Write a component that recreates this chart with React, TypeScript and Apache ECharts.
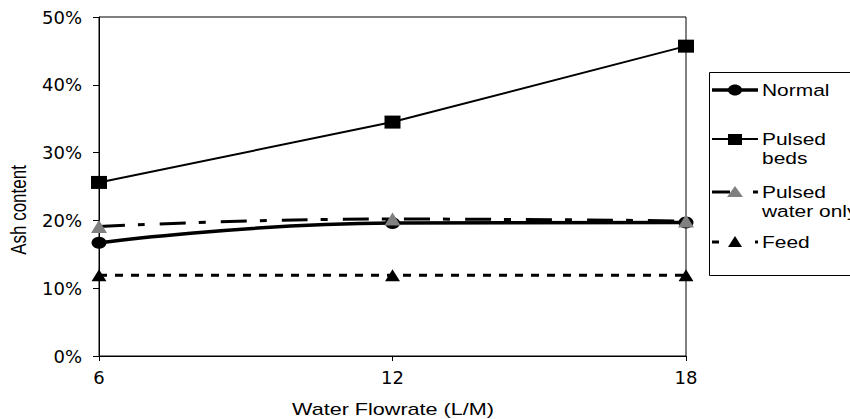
import React, { useEffect, useRef } from "react";
import * as echarts from "echarts";

const flowrates = [6, 12, 18];
const normal = [16.7, 19.6, 19.7];
const pulsedBeds = [25.6, 34.5, 45.7];
const pulsedWaterOnly = [19.1, 20.2, 19.9];
const feed = [11.9, 11.9, 11.9];
const seriesNames = ["Normal", "Pulsed beds", "Pulsed water only", "Feed"];
const xAxisTitle = "Water Flowrate (L/M)";
const yAxisTitle = "Ash content";

const FONT = "'Liberation Sans', Arial, sans-serif";
const WIDE = "'DejaVu Sans', sans-serif";
const STRETCH = 1.27;

function pairs(vals: number[]) {
  return flowrates.map((x, i) => [x, vals[i]]);
}

export default function App() {
  const ref = useRef<HTMLDivElement>(null);
  useEffect(() => {
    if (!ref.current) return;
    const chart = echarts.init(ref.current, undefined, { renderer: "svg" });
    const txt = { fontFamily: FONT, fontSize: 16.5, fill: "#000" };
    const lx0 = 712, lx1 = 758, lc = 735, tx = 762;
    chart.setOption({
      animation: false,
      backgroundColor: "#fff",
      grid: { left: 99, right: 164, top: 17, bottom: 63, show: true, borderColor: "#000", borderWidth: 1 },
      xAxis: {
        type: "value",
        min: 6,
        max: 18,
        interval: 6,
        axisLine: { show: true, lineStyle: { color: "#000", width: 1 } },
        axisTick: { show: true, length: 5, lineStyle: { color: "#000" } },
        axisLabel: { color: "#000", fontFamily: WIDE, fontSize: 18, margin: 12 },
        splitLine: { show: false },
      },
      yAxis: {
        type: "value",
        min: 0,
        max: 50,
        interval: 10,
        axisLine: { show: true, lineStyle: { color: "#000", width: 1 } },
        axisTick: { show: true, length: 6, lineStyle: { color: "#000" } },
        axisLabel: { color: "#000", fontFamily: WIDE, fontSize: 18, margin: 17, formatter: (v: number) => v + "%" },
        splitLine: { show: false },
      },
      series: [
        {
          name: seriesNames[0],
          type: "line",
          data: pairs(normal),
          smooth: 0.5,
          symbol: "circle",
          symbolSize: [15, 12],
          lineStyle: { color: "#000", width: 3.5 },
          itemStyle: { color: "#000" },
          z: 2,
        },
        {
          name: seriesNames[1],
          type: "line",
          data: pairs(pulsedBeds),
          symbol: "rect",
          symbolSize: [16, 13],
          lineStyle: { color: "#000", width: 2 },
          itemStyle: { color: "#000" },
          z: 3,
        },
        {
          name: seriesNames[2],
          type: "line",
          data: pairs(pulsedWaterOnly),
          smooth: 0.5,
          symbol: "triangle",
          symbolSize: [16, 13],
          lineStyle: { color: "#000", width: 3, type: [26, 13, 7, 15] },
          itemStyle: { color: "#808080" },
          z: 4,
        },
        {
          name: seriesNames[3],
          type: "line",
          data: pairs(feed),
          symbol: "triangle",
          symbolSize: [15, 12],
          lineStyle: { color: "#000", width: 3, type: [8, 8] },
          itemStyle: { color: "#000" },
          z: 5,
        },
      ],
      graphic: [
        {
          type: "text",
          x: 18,
          y: 210,
          rotation: Math.PI / 2,
          scaleY: STRETCH,
          style: { text: yAxisTitle, fontFamily: FONT, fontSize: 17, fill: "#000", align: "center", verticalAlign: "middle" },
        },
        {
          type: "text",
          x: 393,
          y: 409,
          scaleX: STRETCH,
          style: { text: xAxisTitle, fontFamily: FONT, fontSize: 17, fill: "#000", align: "center", verticalAlign: "middle" },
        },
        {
          type: "rect",
          shape: { x: 709.5, y: 72.5, width: 200, height: 203 },
          style: { fill: "#fff", stroke: "#000", lineWidth: 1 },
        },
        // Normal
        { type: "line", shape: { x1: lx0, y1: 90, x2: lx1, y2: 90 }, style: { stroke: "#000", lineWidth: 3.5 } },
        { type: "ellipse", shape: { cx: lc, cy: 90, rx: 7, ry: 5.5 }, style: { fill: "#000" } },
        { type: "text", x: tx, y: 90, scaleX: STRETCH, style: { ...txt, text: seriesNames[0], verticalAlign: "middle" } },
        // Pulsed beds
        { type: "line", shape: { x1: lx0, y1: 139, x2: lx1, y2: 139 }, style: { stroke: "#000", lineWidth: 2 } },
        { type: "rect", shape: { x: lc - 7, y: 134, width: 14, height: 11 }, style: { fill: "#000" } },
        { type: "text", x: tx, y: 129.5, scaleX: STRETCH, style: { ...txt, text: "Pulsed\nbeds", lineHeight: 19, verticalAlign: "top" } },
        // Pulsed water only
        { type: "line", shape: { x1: lx0, y1: 192, x2: 730, y2: 192 }, style: { stroke: "#000", lineWidth: 3 } },
        { type: "line", shape: { x1: 753, y1: 192, x2: 758, y2: 192 }, style: { stroke: "#000", lineWidth: 3 } },
        { type: "polygon", shape: { points: [[lc, 186], [lc + 8, 197], [lc - 8, 197]] }, style: { fill: "#808080" } },
        { type: "text", x: tx, y: 182.5, scaleX: STRETCH, style: { ...txt, text: "Pulsed\nwater only", lineHeight: 19, verticalAlign: "top" } },
        // Feed
        { type: "line", shape: { x1: lx0, y1: 242, x2: 719, y2: 242 }, style: { stroke: "#000", lineWidth: 3 } },
        { type: "line", shape: { x1: 755, y1: 242, x2: 758, y2: 242 }, style: { stroke: "#000", lineWidth: 3 } },
        { type: "polygon", shape: { points: [[lc, 236], [lc + 7, 247], [lc - 7, 247]] }, style: { fill: "#000" } },
        { type: "text", x: tx, y: 242, scaleX: STRETCH, style: { ...txt, text: seriesNames[3], verticalAlign: "middle" } },
      ],
    });
    return () => chart.dispose();
  }, []);
  return <div ref={ref} style={{ position: "fixed", left: 0, top: 0, width: 850, height: 419 }} />;
}
